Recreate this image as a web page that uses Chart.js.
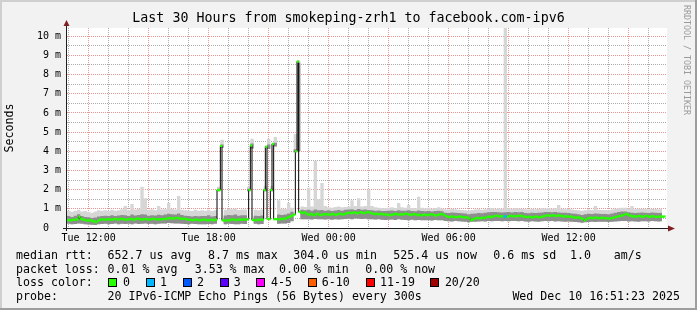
<!DOCTYPE html>
<html><head><meta charset="utf-8">
<script src="https://cdn.jsdelivr.net/npm/chart.js@4/dist/chart.umd.min.js"></script>
<style>
html,body{margin:0;padding:0;background:#f2f2f2;}
#wrap{position:relative;width:697px;height:310px;overflow:hidden;}
canvas{position:absolute;left:0;top:0;}
.t{position:absolute;font-family:'DejaVu Sans Mono',monospace;font-size:11.6px;line-height:14px;white-space:pre;color:#000;}
.box{position:absolute;width:7px;height:7px;border:1px solid #000;top:278px;}
#wm{position:absolute;left:682px;top:5px;font-family:'DejaVu Sans Mono',monospace;font-size:8.3px;line-height:10px;color:#9a9a9a;writing-mode:vertical-rl;white-space:pre;}
</style></head><body>
<div id="wrap">
<canvas id="c" width="697" height="310"></canvas>
<div id="wm">RRDTOOL / TOBI OETIKER</div>
<div class="t" style="left:16px;top:248px">median rtt:</div>
<div class="t" style="left:107.6px;top:248px">652.7 us avg</div>
<div class="t" style="left:208px;top:248px">8.7 ms max</div>
<div class="t" style="left:293.3px;top:248px">304.0 us min</div>
<div class="t" style="left:393.3px;top:248px">525.4 us now</div>
<div class="t" style="left:493.3px;top:248px">0.6 ms sd</div>
<div class="t" style="left:570px;top:248px">1.0</div>
<div class="t" style="left:613.8px;top:248px">am/s</div>
<div class="t" style="left:16px;top:261.5px">packet loss:</div>
<div class="t" style="left:107.6px;top:261.5px">0.01 % avg</div>
<div class="t" style="left:194.7px;top:261.5px">3.53 % max</div>
<div class="t" style="left:279px;top:261.5px">0.00 % min</div>
<div class="t" style="left:365.3px;top:261.5px">0.00 % now</div>
<div class="t" style="left:16px;top:275px">loss color:</div>
<div id="lossLegend"></div>
<div class="t" style="left:16px;top:289px">probe:</div>
<div class="t" style="left:107.6px;top:289px">20 IPv6-ICMP Echo Pings (56 Bytes) every 300s</div>
<div class="t" style="left:512.4px;top:289px">Wed Dec 10 16:51:23 2025</div>
</div>
<script>
// ---- data ----
const titleText = 'Last 30 Hours from smokeping-zrh1 to facebook.com-ipv6';
const startHour = 10 + 55/60;   // Tue 10:55
const spanHours = 30;
const medianStepMin = 5;
const smokeStepMin = 10;
const yMax = 10.43;
const xLabelHours = [12, 18, 24, 30, 36];
const xLabelTexts = ['Tue 12:00', 'Tue 18:00', 'Wed 00:00', 'Wed 06:00', 'Wed 12:00'];
const lossLabels = ['0', '1', '2', '3', '4-5', '6-10', '11-19', '20/20'];
const lossColors = ['#26ff00', '#00b8ff', '#0059ff', '#5e00ff', '#ff00ff', '#ff5e00', '#ff0000', '#a10000'];
const lossBoxX = [108.4, 145.8, 182.7, 219.6, 256.4, 307.6, 365.8, 430.2];
const lossTextX = [123, 160, 196.9, 233.8, 271, 321.8, 380, 444.9];
const lossIndex = [263, 264];
const lossLevel = [1, 1];

// median rtt (ms), 5-minute steps
const median = [
0.40,0.41,0.42,0.40,0.43,0.42,0.44,0.45,0.58,0.47,0.44,0.43,
0.40,0.38,0.39,0.41,0.36,0.34,0.30,0.37,0.42,0.44,0.45,0.43,
0.45,0.44,0.46,0.43,0.45,0.47,0.46,0.44,0.45,0.48,0.46,0.45,
0.44,0.43,0.46,0.48,0.45,0.44,0.47,0.49,0.46,0.45,0.44,0.46,
0.47,0.45,0.44,0.46,0.48,0.47,0.45,0.44,0.46,0.45,0.47,0.46,
0.48,0.50,0.52,0.51,0.49,0.50,0.52,0.53,0.50,0.48,0.47,0.49,
0.46,0.44,0.42,0.43,0.41,0.42,0.44,0.43,0.40,0.41,0.42,0.44,
0.42,0.40,0.41,0.43,0.42,0.40,0.44,1.98,1.98,4.28,0.40,0.38,
0.39,0.41,0.40,0.43,0.45,0.42,0.41,0.43,0.44,0.42,0.45,0.43,
0.44,0.45,1.98,4.30,0.42,0.40,0.41,0.43,0.42,0.44,0.43,1.98,
4.24,0.48,0.46,1.98,4.38,0.46,0.47,0.45,0.44,0.48,0.47,0.49,
0.50,0.55,0.58,0.62,0.66,0.70,4.00,8.68,0.84,0.80,0.78,0.82,
0.76,0.72,0.68,0.74,0.70,0.66,0.72,0.75,0.69,0.67,0.71,0.73,
0.70,0.72,0.69,0.71,0.74,0.70,0.68,0.72,0.75,0.73,0.70,0.72,
0.76,0.78,0.80,0.77,0.79,0.82,0.78,0.76,0.80,0.83,0.79,0.77,
0.80,0.84,0.82,0.78,0.74,0.72,0.75,0.73,0.71,0.74,0.72,0.70,
0.72,0.68,0.66,0.69,0.70,0.72,0.74,0.71,0.69,0.72,0.70,0.73,
0.75,0.72,0.70,0.68,0.71,0.73,0.70,0.67,0.69,0.66,0.68,0.70,
0.68,0.66,0.69,0.72,0.70,0.67,0.65,0.68,0.70,0.73,0.71,0.68,
0.62,0.58,0.57,0.60,0.59,0.56,0.58,0.57,0.60,0.58,0.56,0.55,
0.56,0.54,0.50,0.40,0.44,0.48,0.52,0.53,0.50,0.52,0.54,0.51,
0.55,0.58,0.60,0.57,0.59,0.62,0.64,0.63,0.60,0.62,0.61,0.60,
0.60,0.58,0.62,0.64,0.61,0.63,0.60,0.62,0.65,0.63,0.61,0.60,
0.58,0.56,0.59,0.57,0.55,0.58,0.60,0.57,0.56,0.58,0.60,0.62,
0.64,0.66,0.63,0.65,0.67,0.64,0.62,0.65,0.66,0.63,0.61,0.60,
0.62,0.59,0.58,0.61,0.57,0.55,0.53,0.56,0.54,0.50,0.48,0.40,
0.45,0.50,0.52,0.54,0.51,0.53,0.55,0.52,0.50,0.53,0.54,0.51,
0.52,0.50,0.48,0.51,0.53,0.55,0.58,0.60,0.62,0.64,0.66,0.70,
0.74,0.70,0.66,0.63,0.60,0.62,0.59,0.61,0.63,0.60,0.58,0.62,
0.64,0.61,0.58,0.60,0.62,0.59,0.57,0.60,0.58,0.61,0.59,0.60
];

// smoke (ms), 10-minute steps: lowest ping, top of dense smoke, highest ping
const smokeLo = [
0.20,0.22,0.19,0.21,0.24,0.22, 0.20,0.18,0.17,0.16,0.19,0.21,
0.22,0.20,0.21,0.23,0.20,0.22, 0.21,0.22,0.20,0.23,0.21,0.22,
0.23,0.21,0.22,0.20,0.22,0.24, 0.24,0.26,0.25,0.23,0.24,0.22,
0.21,0.20,0.22,0.21,0.19,0.20, 0.20,0.21,0.20,0.22,1.92,4.18,
0.20,0.22,0.21,0.19,0.20,0.22, 0.21,1.92,4.15,0.22,0.20,0.21,
1.92,4.12,1.92,4.25,0.22,0.23, 0.24,0.26,0.35,3.95,4.00,0.45,
0.45,0.46,0.44,0.47,0.45,0.46, 0.44,0.45,0.43,0.46,0.44,0.45,
0.47,0.48,0.46,0.49,0.48,0.47, 0.48,0.46,0.45,0.44,0.45,0.43,
0.42,0.43,0.44,0.42,0.45,0.43, 0.42,0.41,0.43,0.40,0.42,0.41,
0.40,0.41,0.39,0.42,0.40,0.41, 0.36,0.35,0.34,0.36,0.35,0.34,
0.33,0.30,0.32,0.33,0.34,0.35, 0.34,0.36,0.35,0.37,0.36,0.35,
0.36,0.35,0.36,0.37,0.35,0.36, 0.34,0.33,0.35,0.34,0.33,0.35,
0.36,0.35,0.36,0.34,0.35,0.34, 0.33,0.34,0.32,0.31,0.30,0.28,
0.30,0.31,0.32,0.31,0.32,0.33, 0.32,0.31,0.33,0.34,0.35,0.36,
0.36,0.34,0.35,0.34,0.33,0.35, 0.35,0.34,0.36,0.35,0.34,0.35
];
const smokeHi = [
0.60,0.62,0.58,0.64,0.72,0.63, 0.58,0.56,0.52,0.55,0.60,0.62,
0.64,0.62,0.66,0.63,0.65,0.68, 0.66,0.63,0.70,0.65,0.68,0.72,
0.70,0.64,0.67,0.65,0.69,0.66, 0.70,0.74,0.72,0.70,0.75,0.68,
0.64,0.62,0.60,0.63,0.61,0.62, 0.62,0.66,0.60,0.63,2.05,4.36,
0.65,0.68,0.66,0.70,0.64,0.67, 0.66,2.05,4.40,0.64,0.62,0.65,
2.05,4.35,2.05,4.45,0.70,0.68, 0.70,0.75,0.85,4.10,8.60,0.95,
0.92,0.95,0.90,0.96,0.92,0.94, 0.90,0.92,0.89,0.91,0.94,0.90,
0.95,0.96,0.98,0.94,0.99,0.95, 0.97,0.94,0.92,0.90,0.91,0.89,
0.88,0.90,0.91,0.89,0.93,0.90, 0.90,0.92,0.88,0.87,0.91,0.88,
0.87,0.89,0.86,0.88,0.90,0.87, 0.80,0.78,0.81,0.79,0.78,0.77,
0.76,0.72,0.74,0.76,0.78,0.77, 0.80,0.82,0.84,0.83,0.82,0.81,
0.82,0.83,0.81,0.84,0.82,0.83, 0.78,0.77,0.79,0.78,0.80,0.81,
0.83,0.84,0.82,0.83,0.81,0.80, 0.80,0.78,0.76,0.74,0.72,0.68,
0.72,0.74,0.73,0.75,0.74,0.73, 0.73,0.72,0.76,0.80,0.83,0.86,
0.86,0.82,0.80,0.78,0.79,0.81, 0.80,0.78,0.81,0.79,0.78,0.80
];
const smokeMax = [
0.82,0.88,0.85,0.90,0.95,0.86, 0.88,0.84,0.80,0.86,0.92,0.90,
0.92,0.88,0.95,0.90,0.93,0.98, 1.15,0.92,1.25,0.96,1.00,2.15,
1.55,0.95,0.98,0.92,1.15,0.96, 0.98,1.30,1.00,0.96,1.67,0.95,
0.92,0.90,0.88,0.95,0.90,0.92, 0.90,0.95,0.88,0.92,2.15,4.60,
0.95,1.00,0.98,1.02,0.94,0.97, 0.96,2.15,4.65,0.95,0.92,0.96,
2.20,4.65,2.20,4.75,1.45,1.00, 1.00,1.30,1.05,4.90,8.75,1.12,
1.10,2.10,1.12,3.50,1.50,2.35, 1.15,1.08,1.05,1.10,1.12,1.08,
1.10,1.12,1.45,1.15,1.55,1.12, 1.15,2.00,1.15,1.08,1.06,1.04,
1.03,1.06,1.08,1.04,1.30,1.08, 1.06,1.20,1.04,1.03,1.63,1.05,
1.03,1.06,1.00,1.04,1.08,1.02, 0.98,0.96,1.00,0.98,0.95,0.94,
0.93,0.90,0.94,0.96,0.98,0.95, 0.98,1.02,1.04,1.00,1.03,1.01,
10.50,1.03,1.00,1.04,1.02,1.01, 0.98,0.96,1.00,0.98,1.01,1.03,
1.02,1.04,1.01,1.03,1.20,1.00, 0.98,1.00,0.96,0.94,0.93,0.90,
0.93,0.96,0.94,1.15,0.95,0.94, 0.94,0.93,0.96,1.00,1.03,1.06,
1.06,1.02,1.15,0.98,1.00,1.01, 1.00,0.98,1.01,0.99,0.98,1.00
];

// ---- legend boxes ----
const ll = document.getElementById('lossLegend');
lossLabels.forEach((lab, i) => {
  const b = document.createElement('div');
  b.className = 'box'; b.style.left = lossBoxX[i] + 'px'; b.style.background = lossColors[i];
  ll.appendChild(b);
  const t = document.createElement('div');
  t.className = 't'; t.style.left = lossTextX[i] + 'px'; t.style.top = '275px'; t.textContent = lab;
  ll.appendChild(t);
});

// ---- chart ----
const FONT = "'DejaVu Sans Mono', monospace";
Chart.defaults.font.family = FONT;
Chart.defaults.color = '#000';
const majorGrid = 'rgba(222,79,79,0.6)';
const minorGrid = 'rgba(143,143,143,0.75)';

const toXY = (arr, stepMin) => arr.map((v, i) => ({x: startHour + (i - 0.5) * stepMin / 60, y: v}));
const lossColorAt = (i) => { const k = lossIndex.indexOf(i); return k >= 0 ? lossColors[lossLevel[k]] : lossColors[0]; };

const framePlugin = {
  id: 'frame',
  beforeDraw(chart) {
    const {ctx, chartArea: a, width: W, height: H} = chart;
    ctx.save();
    ctx.fillStyle = '#f2f2f2'; ctx.fillRect(0, 0, W, H);
    ctx.fillStyle = '#cfcfcf'; ctx.fillRect(0, 0, W, 2); ctx.fillRect(0, 0, 2, H);
    ctx.fillStyle = '#9e9e9e'; ctx.fillRect(0, H - 2, W, 2); ctx.fillRect(W - 2, 0, 2, H);
    ctx.fillStyle = '#ffffff'; ctx.fillRect(a.left, a.top, a.right - a.left, a.bottom - a.top);
    ctx.restore();
  },
  afterDatasetsDraw(chart) {
    const {ctx, chartArea: a} = chart;
    ctx.save();
    ctx.strokeStyle = '#1f1f1f'; ctx.lineWidth = 1;
    ctx.beginPath();
    ctx.moveTo(a.left - 0.5, a.bottom + 3); ctx.lineTo(a.left - 0.5, a.top - 2);
    ctx.moveTo(a.left - 4, a.bottom + 0.5); ctx.lineTo(a.right + 2, a.bottom + 0.5);
    ctx.stroke();
    ctx.fillStyle = '#801f1f';
    ctx.beginPath();
    ctx.moveTo(a.left - 3.5, a.top - 2); ctx.lineTo(a.left + 2.5, a.top - 2); ctx.lineTo(a.left - 0.5, a.top - 8); ctx.closePath();
    ctx.fill();
    ctx.beginPath();
    ctx.moveTo(a.right + 1, a.bottom - 2.5); ctx.lineTo(a.right + 1, a.bottom + 3.5); ctx.lineTo(a.right + 8, a.bottom + 0.5); ctx.closePath();
    ctx.fill();
    ctx.restore();
  }
};

const xTicks = [];
for (let h = Math.ceil(startHour); h <= startHour + spanHours; h++) xTicks.push(h);
const yTicks = [];
for (let v = 0; v <= 10; v += 0.5) yTicks.push(v);

new Chart(document.getElementById('c'), {
  type: 'line',
  plugins: [framePlugin],
  data: {
    datasets: [
      {label: 'min', data: toXY(smokeLo, smokeStepMin), borderColor: 'rgba(0,0,0,0)', borderWidth: 1, pointRadius: 0, fill: false, stepped: 'middle', order: 5},
      {label: 'max', data: toXY(smokeMax, smokeStepMin), borderColor: 'rgba(0,0,0,0)', borderWidth: 1, backgroundColor: '#d6d6d6', pointRadius: 0, fill: 0, stepped: 'middle', order: 4},
      {label: 'smoke', data: toXY(smokeHi, smokeStepMin), borderColor: 'rgba(0,0,0,0)', borderWidth: 1, backgroundColor: '#8e8e8e', pointRadius: 0, fill: 0, stepped: 'middle', order: 3},
      {label: 'median', data: toXY(median, medianStepMin), borderColor: '#000', borderWidth: 1, pointRadius: 0, fill: false, stepped: 'middle', order: 2},
      {label: 'loss', data: toXY(median, medianStepMin), showLine: false, pointStyle: 'rect', pointRadius: 1.6, pointBorderWidth: 0,
        pointBackgroundColor: (c) => lossColorAt(c.dataIndex), order: 1}
    ]
  },
  options: {
    responsive: false, animation: false, events: [],
    layout: {padding: {left: 0, top: 0, right: 0, bottom: 0}, autoPadding: false},
    plugins: {
      legend: {display: false}, tooltip: {enabled: false},
      title: {display: true, text: titleText, color: '#000', font: {family: FONT, size: 13.3, weight: 'normal'}, padding: {top: 11, bottom: 1}}
    },
    scales: {
      x: {
        type: 'linear', min: startHour, max: startHour + spanHours,
        afterBuildTicks: (s) => { s.ticks = xTicks.map(v => ({value: v})); },
        afterFit: (s) => { s.height = 82; },
        grid: {color: (c) => (c.tick && c.tick.value % 3 === 0) ? majorGrid : minorGrid, lineWidth: 1, drawTicks: false},
        border: {display: false, dash: [1, 1]},
        ticks: {autoSkip: false, maxRotation: 0, minRotation: 0, padding: 4, color: '#000', font: {size: 10},
          callback: (v) => { const k = xLabelHours.indexOf(v); return k >= 0 ? xLabelTexts[k] : ''; }}
      },
      y: {
        type: 'linear', min: 0, max: yMax,
        afterBuildTicks: (s) => { s.ticks = yTicks.map(v => ({value: v})); },
        afterFit: (s) => { s.width = 67; },
        grid: {color: (c) => (c.tick && c.tick.value % 1 === 0) ? majorGrid : minorGrid, lineWidth: 1, drawTicks: false},
        border: {display: false, dash: [1, 1]},
        title: {display: true, text: 'Seconds', color: '#000', font: {family: FONT, size: 11.6}, padding: {top: 3, bottom: 0}},
        ticks: {autoSkip: false, padding: 6, color: '#000', font: {size: 10},
          callback: (v) => v === 0 ? '0  ' : (v % 1 === 0 ? v + ' m' : '')}
      },
      yRight: {
        type: 'linear', position: 'right', min: 0, max: yMax, display: true,
        afterFit: (s) => { s.width = 30; },
        grid: {display: false, drawTicks: false}, border: {display: false},
        ticks: {display: false}
      }
    }
  }
});
</script>
</body></html>
